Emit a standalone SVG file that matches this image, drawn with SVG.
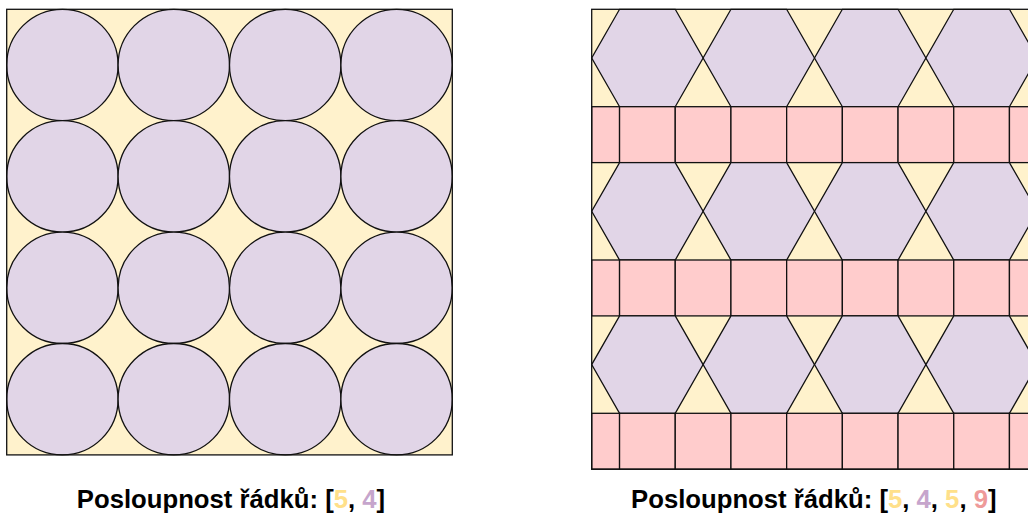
<svg xmlns="http://www.w3.org/2000/svg" xmlns:xlink="http://www.w3.org/1999/xlink" width="1028" height="515" viewBox="0 0 1028 515">
  <style>
    .bg { fill: #FFF2CC; }
    .circ { fill: #E1D5E7; stroke: #111; stroke-width: 1.3; }
    .hex { fill: #E1D5E7; stroke: #111; stroke-width: 1.3; stroke-linejoin: miter; }
    .sq { fill: #FFCCCC; stroke: #111; stroke-width: 1.3; }
    .frame { fill: none; stroke: #111; stroke-width: 1.3; }
    .label { font-family: "Liberation Sans", Arial, sans-serif; font-weight: bold; font-size: 25.7px; fill: #000; text-anchor: middle; }
    .c5 { fill: #FFE08A; }
    .c4 { fill: #C6A5CC; }
    .c9 { fill: #EE9A9A; }
  </style>
  <defs>
    <!-- flat-topped hexagon, side 55.7, anchored at its top edge centre -->
    <polygon id="hexagon" class="hex" points="-27.85,0 27.85,0 55.7,48.7 27.85,97.4 -27.85,97.4 -55.7,48.7"/>
    <!-- one row of squares, starting with a half-width cell at the left edge -->
    <g id="squareRow">
      <rect class="sq" x="591.7" y="0" width="27.85" height="55.9"/>
      <rect class="sq" x="619.55" y="0" width="55.7" height="55.9"/>
      <rect class="sq" x="675.25" y="0" width="55.7" height="55.9"/>
      <rect class="sq" x="730.95" y="0" width="55.7" height="55.9"/>
      <rect class="sq" x="786.65" y="0" width="55.7" height="55.9"/>
      <rect class="sq" x="842.35" y="0" width="55.7" height="55.9"/>
      <rect class="sq" x="898.05" y="0" width="55.7" height="55.9"/>
      <rect class="sq" x="953.75" y="0" width="55.7" height="55.9"/>
      <rect class="sq" x="1009.45" y="0" width="55.7" height="55.9"/>
    </g>
    <g id="hexRow">
      <use xlink:href="#hexagon" x="647.4" y="0"/>
      <use xlink:href="#hexagon" x="758.8" y="0"/>
      <use xlink:href="#hexagon" x="870.2" y="0"/>
      <use xlink:href="#hexagon" x="981.6" y="0"/>
      <use xlink:href="#hexagon" x="1093" y="0"/>
    </g>
  </defs>

  <!-- Left panel: 4 x 4 grid of circles -->
  <g id="panel-circles">
    <rect class="bg" x="6.7" y="9.3" width="445.6" height="445.6"/>
    <g id="circle-rows">
      <circle class="circ" cx="62.4" cy="65" r="55.7"/>
      <circle class="circ" cx="173.8" cy="65" r="55.7"/>
      <circle class="circ" cx="285.2" cy="65" r="55.7"/>
      <circle class="circ" cx="396.6" cy="65" r="55.7"/>
      <circle class="circ" cx="62.4" cy="176.4" r="55.7"/>
      <circle class="circ" cx="173.8" cy="176.4" r="55.7"/>
      <circle class="circ" cx="285.2" cy="176.4" r="55.7"/>
      <circle class="circ" cx="396.6" cy="176.4" r="55.7"/>
      <circle class="circ" cx="62.4" cy="287.8" r="55.7"/>
      <circle class="circ" cx="173.8" cy="287.8" r="55.7"/>
      <circle class="circ" cx="285.2" cy="287.8" r="55.7"/>
      <circle class="circ" cx="396.6" cy="287.8" r="55.7"/>
      <circle class="circ" cx="62.4" cy="399.2" r="55.7"/>
      <circle class="circ" cx="173.8" cy="399.2" r="55.7"/>
      <circle class="circ" cx="285.2" cy="399.2" r="55.7"/>
      <circle class="circ" cx="396.6" cy="399.2" r="55.7"/>
    </g>
    <rect class="frame" x="6.7" y="9.3" width="445.6" height="445.6"/>
    <text class="label" x="231" y="508">Posloupnost řádků: [<tspan class="c5">5</tspan>, <tspan class="c4">4</tspan>]</text>
  </g>

  <!-- Right panel: hexagon rows alternating with square rows -->
  <g id="panel-tiling">
    <rect class="bg" x="591.7" y="9.3" width="470" height="459.9"/>
    <use id="hex-row-1" xlink:href="#hexRow" x="0" y="9.3"/>
    <use id="square-row-1" xlink:href="#squareRow" x="0" y="106.7"/>
    <use id="hex-row-2" xlink:href="#hexRow" x="0" y="162.6"/>
    <use id="square-row-2" xlink:href="#squareRow" x="0" y="260"/>
    <use id="hex-row-3" xlink:href="#hexRow" x="0" y="315.9"/>
    <use id="square-row-3" xlink:href="#squareRow" x="0" y="413.3"/>
    <rect class="frame" x="591.7" y="9.3" width="470" height="459.9"/>
    <text class="label" x="813.8" y="508">Posloupnost řádků: [<tspan class="c5">5</tspan>, <tspan class="c4">4</tspan>, <tspan class="c5">5</tspan>, <tspan class="c9">9</tspan>]</text>
  </g>
</svg>
